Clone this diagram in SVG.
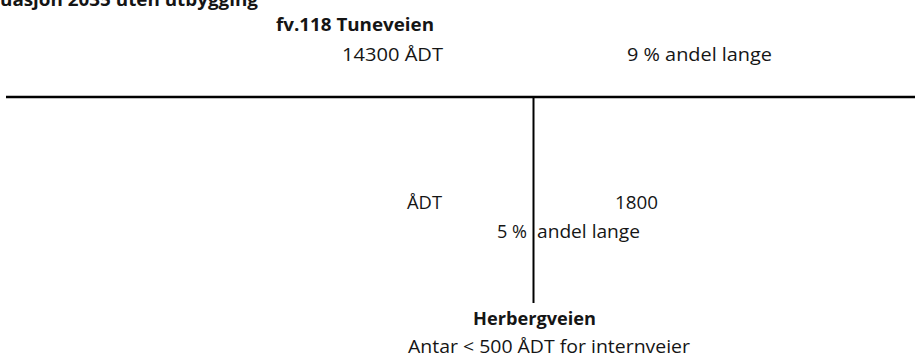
<svg xmlns="http://www.w3.org/2000/svg" width="915" height="361" viewBox="0 0 915 361">
  <style>
    text { font-family: "Open Sans", Lato, "Liberation Sans", sans-serif; font-size: 18.5px; fill: #151515; }
    .b { font-weight: bold; font-size: 17.5px; }
    .road { stroke: #000; fill: none; }
  </style>
  <rect width="915" height="361" fill="#fff"/>

  <!-- heading, partly above the page edge -->
  <g id="heading">
    <text class="b" x="0" y="6" textLength="258" lengthAdjust="spacingAndGlyphs">uasjon 2035 uten utbygging</text>
  </g>

  <!-- main road -->
  <g id="tuneveien">
    <text class="b" x="276" y="31" textLength="158" lengthAdjust="spacingAndGlyphs">fv.118 Tuneveien</text>
    <text x="342" y="60.5" textLength="101" lengthAdjust="spacingAndGlyphs">14300 ÅDT</text>
    <text x="627" y="60.5" textLength="145" lengthAdjust="spacingAndGlyphs">9 % andel lange</text>
  </g>

  <!-- side road -->
  <g id="herbergveien-traffic">
    <text x="407" y="209" textLength="35" lengthAdjust="spacingAndGlyphs">ÅDT</text>
    <text x="615" y="209" textLength="43" lengthAdjust="spacingAndGlyphs">1800</text>
    <text x="497" y="238" textLength="30" lengthAdjust="spacingAndGlyphs">5 %</text>
    <text x="537" y="238" textLength="103" lengthAdjust="spacingAndGlyphs">andel lange</text>
  </g>

  <g id="herbergveien">
    <text class="b" x="473" y="325" textLength="123" lengthAdjust="spacingAndGlyphs">Herbergveien</text>
    <text x="408" y="353" textLength="282" lengthAdjust="spacingAndGlyphs">Antar &lt; 500 ÅDT for internveier</text>
  </g>

  <!-- road lines -->
  <g id="connectors">
    <line class="road" x1="6" y1="97" x2="915" y2="97" stroke-width="2.5"/>
    <line class="road" x1="533.5" y1="97" x2="533.5" y2="303" stroke-width="2"/>
  </g>
</svg>
